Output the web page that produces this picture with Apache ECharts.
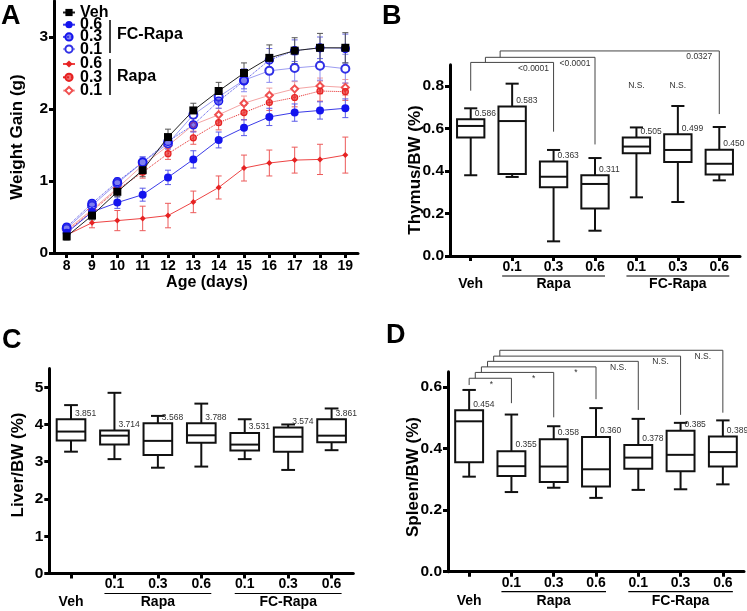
<!DOCTYPE html>
<html><head><meta charset="utf-8">
<script src="https://cdn.jsdelivr.net/npm/echarts@6/dist/echarts.min.js"></script>
<style>html,body{margin:0;padding:0;background:#fff}#c{width:747px;height:611px}</style>
</head><body><div id="c"></div>
<script>
// ---------- Panel A data ----------
const days = ['8','9','10','11','12','13','14','15','16','17','18','19'];
const vehGain    = [0.23,0.52,0.85,1.15,1.61,1.98,2.25,2.50,2.71,2.81,2.85,2.85];
const fc06Gain   = [0.28,0.57,0.70,0.81,1.05,1.30,1.57,1.74,1.89,1.95,1.98,2.01];
const fc03Gain   = [0.36,0.69,0.99,1.26,1.55,1.78,2.11,2.39,2.68,2.81,2.85,2.84];
const fc01Gain   = [0.34,0.66,0.97,1.26,1.52,1.92,2.17,2.40,2.53,2.57,2.60,2.56];
const rapa06Gain = [0.25,0.42,0.45,0.48,0.52,0.71,0.91,1.18,1.25,1.29,1.30,1.36];
const rapa03Gain = [0.30,0.58,0.88,1.12,1.38,1.60,1.81,1.95,2.09,2.16,2.25,2.24];
const rapa01Gain = [0.32,0.60,0.90,1.22,1.49,1.78,1.92,2.08,2.19,2.28,2.32,2.30];
const vehErr    = [0.05,0.06,0.07,0.09,0.11,0.10,0.12,0.14,0.18,0.18,0.20,0.21];
const fc06Err   = [0.04,0.07,0.08,0.09,0.10,0.12,0.11,0.11,0.12,0.12,0.12,0.13];
const fc03Err   = [0.04,0.04,0.05,0.07,0.09,0.10,0.10,0.11,0.16,0.15,0.15,0.20];
const fc01Err   = [0.04,0.04,0.05,0.08,0.08,0.10,0.10,0.16,0.16,0.18,0.20,0.20];
const rapa06Err = [0.05,0.07,0.14,0.17,0.17,0.15,0.16,0.18,0.18,0.18,0.21,0.25];
const rapa03Err = [0.04,0.05,0.06,0.08,0.08,0.09,0.10,0.10,0.11,0.13,0.14,0.12];
const rapa01Err = [0.04,0.05,0.06,0.07,0.08,0.09,0.09,0.10,0.10,0.10,0.11,0.11];
const gainTicks = [0,1,2,3];

// ---------- Box panels data ----------
const groups = ['Veh','Rapa 0.1','Rapa 0.3','Rapa 0.6','FC-Rapa 0.1','FC-Rapa 0.3','FC-Rapa 0.6'];
const groupLabels = ['Veh','','Rapa','','','FC-Rapa',''];
const underlineSpans = [[1,3],[4,6]];
// [min, q1, median, q3, max]
const thymusBoxes = [[0.380,0.558,0.612,0.643,0.695],[0.372,0.386,0.635,0.703,0.811],[0.069,0.323,0.373,0.445,0.499],[0.119,0.224,0.339,0.380,0.461],[0.276,0.483,0.515,0.558,0.605],[0.254,0.442,0.499,0.573,0.706],[0.356,0.384,0.434,0.500,0.607]];
const thymusMeans = ['0.586','0.583','0.363','0.311','0.505','0.499','0.450'];
const liverBoxes = [[3.27,3.57,3.81,4.14,4.52],[3.07,3.46,3.70,3.84,4.85],[2.84,3.18,3.56,4.03,4.23],[2.87,3.51,3.71,4.03,4.56],[3.07,3.30,3.46,3.77,4.14],[2.78,3.27,3.67,3.92,4.00],[3.31,3.52,3.70,4.14,4.43]];
const liverMeans = ['3.851','3.714','3.568','3.788','3.531','3.574','3.861'];
const spleenBoxes = [[0.309,0.356,0.489,0.525,0.591],[0.259,0.311,0.343,0.392,0.511],[0.273,0.292,0.342,0.431,0.473],[0.240,0.277,0.333,0.438,0.532],[0.266,0.335,0.371,0.412,0.497],[0.268,0.327,0.380,0.458,0.484],[0.284,0.342,0.389,0.440,0.492]];
const spleenMeans = ['0.454','0.355','0.358','0.360','0.378','0.385','0.389'];
const thymusTicks = [0,0.2,0.4,0.6,0.8];
const liverTicks = [0,1,2,3,4,5];
const spleenTicks = [0,0.2,0.4,0.6];

// significance brackets (from Veh)
const thymusSigTargets = [2,3,6];
const thymusSigLevels  = [0.911,0.935,0.965];
const thymusSigBottoms = [0.585,0.525,0.668];
const thymusSigStart   = 0.778;
const thymusSigLabels  = ['<0.0001','<0.0001','0.0327'];
const thymusNsIdx = [4,5];
const thymusNsValue = 0.80;
const spleenSigTargets = [1,2,3,4,5,6];
const spleenSigLevels  = [0.629,0.648,0.666,0.684,0.701,0.720];
const spleenSigBottoms = [0.548,0.502,0.561,0.526,0.510,0.517];
const spleenSigStart   = 0.607;
const spleenSigLabels  = ['*','*','*','N.S.','N.S.','N.S.'];

// ---------- styles ----------
const FF = '"Liberation Sans", Arial, sans-serif';
const BLUE = '#1414ee', RED = '#e62222';
const chart = echarts.init(document.getElementById('c'), null, {renderer:'canvas'});

function gridDef(l,t,w,h){return {left:l,top:t,width:w,height:h,containLabel:false,outerBoundsMode:'none'};}
function catAxis(gi, data, fmt, margin, showLine){
  return {type:'category', gridIndex:gi, data:data, boundaryGap:true, position:'bottom',
    axisLine:{show:showLine, onZero:false, lineStyle:{color:'#000',width:3}},
    axisTick:{show:showLine, alignWithLabel:true, interval:0, length:5, lineStyle:{color:'#000',width:3}},
    axisLabel:{interval:0, margin:margin, color:'#000', fontFamily:FF, fontWeight:'bold', fontSize:14, formatter:fmt},
    splitLine:{show:false}};
}
function valAxis(gi, min, max, ticks, fmt){
  return {type:'value', gridIndex:gi, min:min, max:max,
    axisLine:{show:true, lineStyle:{color:'#000',width:3}},
    axisTick:{show:true, length:5, customValues:ticks, lineStyle:{color:'#000',width:3}},
    axisLabel:{customValues:ticks, margin:6, color:'#000', fontFamily:FF, fontWeight:'bold', fontSize:15.5, formatter:fmt},
    splitLine:{show:false}};
}

function errSeries(name, mean, err, color){
  return {type:'custom', name:name+' err', xAxisIndex:0, yAxisIndex:0, clip:false, z:1,
    data: mean.map((m,i)=>[i, m-err[i], m+err[i]]),
    encode:{x:0,y:[1,2]},
    renderItem:function(p, api){
      const a = api.coord([api.value(0), api.value(1)]);
      const b = api.coord([api.value(0), api.value(2)]);
      const st = {stroke:color, lineWidth:1};
      return {type:'group', children:[
        {type:'line', shape:{x1:a[0],y1:a[1],x2:b[0],y2:b[1]}, style:st},
        {type:'line', shape:{x1:a[0]-3,y1:a[1],x2:a[0]+3,y2:a[1]}, style:st},
        {type:'line', shape:{x1:b[0]-3,y1:b[1],x2:b[0]+3,y2:b[1]}, style:st}]};
    }};
}
function lineSeries(name, data, color, symbol, size, itemStyle, lineStyle, z){
  return {type:'line', name:name, xAxisIndex:0, yAxisIndex:0, data:data, symbol:symbol, symbolSize:size,
    itemStyle:Object.assign({color:color}, itemStyle||{}), lineStyle:Object.assign({color:color,width:1}, lineStyle||{}),
    z:z||2, emphasis:{disabled:true}};
}

function boxSeries(xi, yi, boxes, labels){
  return {type:'custom', xAxisIndex:xi, yAxisIndex:yi, clip:false, z:3,
    data: boxes.map((b,i)=>[i].concat(b)), encode:{x:0, y:[1,2,3,4,5]},
    renderItem:function(p, api){
      const i = api.value(0);
      const x = api.coord([i, api.value(3)])[0];
      const y = k => api.coord([i, api.value(k)])[1];
      const yMin=y(1), yQ1=y(2), yMed=y(3), yQ3=y(4), yMax=y(5);
      const w = api.size([1,0])[0]*0.66, c = w*0.48;
      const st = {stroke:'#111', lineWidth:2};
      return {type:'group', children:[
        {type:'line', shape:{x1:x,y1:yMax,x2:x,y2:yQ3}, style:st},
        {type:'line', shape:{x1:x,y1:yQ1,x2:x,y2:yMin}, style:st},
        {type:'line', shape:{x1:x-c/2,y1:yMax,x2:x+c/2,y2:yMax}, style:st},
        {type:'line', shape:{x1:x-c/2,y1:yMin,x2:x+c/2,y2:yMin}, style:st},
        {type:'rect', shape:{x:x-w/2,y:yQ3,width:w,height:yQ1-yQ3}, style:{stroke:'#111',lineWidth:2,fill:'#fff'}},
        {type:'line', shape:{x1:x-w/2,y1:yMed,x2:x+w/2,y2:yMed}, style:st},
        {type:'text', x:x+4, y:yQ3-6, style:{text:labels[p.dataIndex], fontSize:8.5, fontFamily:FF, fill:'#333', verticalAlign:'middle', align:'left'}}
      ]};
    }};
}
function underlineSeries(xi, yi){
  return {type:'custom', xAxisIndex:xi, yAxisIndex:yi, clip:false, z:3, silent:true,
    data: underlineSpans.map(s=>[s[0], s[1], 0]), encode:{x:0},
    renderItem:function(p, api){
      const a = api.coord([api.value(0), api.value(2)]);
      const b = api.coord([api.value(1), api.value(2)]);
      return {type:'line', shape:{x1:a[0]-10,y1:a[1]+20,x2:b[0]+10,y2:a[1]+20}, style:{stroke:'#000',lineWidth:1.2}};
    }};
}
function bracketSeries(xi, yi, targets, levels, bottoms, start, labels, step){
  return {type:'custom', xAxisIndex:xi, yAxisIndex:yi, clip:false, z:3, silent:true,
    data: targets.map((t,k)=>[t, levels[k], bottoms[k]]), encode:{x:0, y:[1,2]},
    renderItem:function(p, api){
      const k = p.dataIndex;
      const catW = api.size([1,0])[0];
      const prev = k===0 ? start : levels[k-1];
      const xb = api.coord([0, prev])[0] + k*step*catW;
      const yPrev = api.coord([0, prev])[1];
      const tl = api.coord([api.value(0), api.value(1)]);
      const tb = api.coord([api.value(0), api.value(2)]);
      const st = {stroke:'#444', lineWidth:1};
      return {type:'group', children:[
        {type:'line', shape:{x1:xb,y1:yPrev,x2:xb,y2:tl[1]}, style:st},
        {type:'line', shape:{x1:xb,y1:tl[1],x2:tl[0],y2:tl[1]}, style:st},
        {type:'line', shape:{x1:tl[0],y1:tl[1],x2:tb[0],y2:tb[1]}, style:st},
        {type:'text', x:tl[0]-20, y:tl[1]+6, style:{text:labels[k], fontSize:8.5, fontFamily:FF, fill:'#333', align:'center', verticalAlign:'middle'}}
      ]};
    }};
}
function nsSeries(xi, yi, idx, val){
  return {type:'custom', xAxisIndex:xi, yAxisIndex:yi, clip:false, z:3, silent:true,
    data: idx.map(i=>[i, val]), encode:{x:0,y:1},
    renderItem:function(p, api){
      const c = api.coord([api.value(0), api.value(1)]);
      return {type:'text', x:c[0], y:c[1], style:{text:'N.S.', fontSize:8.5, fontFamily:FF, fill:'#333', align:'center', verticalAlign:'middle'}};
    }};
}

const doseFmt = v => v==='Veh' ? '' : v.split(' ').pop();
const groupFmt = (v,i) => groupLabels[i];
const f1 = v => v.toFixed(1);
const f0 = v => String(v);

function txt(x,y,text,size,opts){
  return Object.assign({type:'text', x:x, y:y, style:Object.assign({text:text, fontSize:size, fontWeight:'bold', fontFamily:FF, fill:'#000', align:'left', verticalAlign:'middle'}, (opts&&opts.style)||{})}, (opts&&opts.el)||{});
}
function vtitle(x,y,text){
  return {type:'text', x:x, y:y, rotation:Math.PI/2, style:{text:text, fontSize:17, fontWeight:'bold', fontFamily:FF, fill:'#000', align:'center', verticalAlign:'middle'}};
}

const legendText = {fontFamily:FF, fontWeight:'bold', fontSize:16, color:'#000'};
const option = {
  animation:false,
  backgroundColor:'#fff',
  grid:[gridDef(54,1,304,252), gridDef(450,64.75,290,191.25), gridDef(49.3,368.6,304,204.9), gridDef(448,371.8,296,199.9)],
  xAxis:[
    catAxis(0, days, null, 6, true),
    catAxis(1, groups, doseFmt, 4, true), catAxis(1, groups, groupFmt, 21, false),
    catAxis(2, groups, doseFmt, 4, true), catAxis(2, groups, groupFmt, 22, false),
    catAxis(3, groups, doseFmt, 4, true), catAxis(3, groups, groupFmt, 22, false)
  ],
  yAxis:[
    valAxis(0, 0, 3.5, gainTicks, f0),
    valAxis(1, 0, 0.9, thymusTicks, f1),
    valAxis(2, 0, 5.5, liverTicks, f0),
    valAxis(3, 0, 0.65, spleenTicks, f1)
  ],
  legend:[
    {orient:'vertical', left:62, top:4.5, padding:0, itemGap:-3.8, itemWidth:12, itemHeight:9, textStyle:legendText,
     data:['Veh','FC-Rapa 0.6','FC-Rapa 0.3','FC-Rapa 0.1'], formatter:n=>n.split(' ').pop(), selectedMode:false},
    {orient:'vertical', left:62, top:56, padding:0, itemGap:-2.7, itemWidth:12, itemHeight:9, textStyle:legendText,
     data:['Rapa 0.6','Rapa 0.3','Rapa 0.1'], formatter:n=>n.split(' ').pop(), selectedMode:false}
  ],
  series:[
    errSeries('Rapa 0.1', rapa01Gain, rapa01Err, '#f19a9a'),
    errSeries('Rapa 0.3', rapa03Gain, rapa03Err, '#ec6060'),
    errSeries('Rapa 0.6', rapa06Gain, rapa06Err, '#ec5a5a'),
    errSeries('FC-Rapa 0.1', fc01Gain, fc01Err, '#8c8cf0'),
    errSeries('FC-Rapa 0.3', fc03Gain, fc03Err, '#6a6aea'),
    errSeries('FC-Rapa 0.6', fc06Gain, fc06Err, '#5a5ae8'),
    errSeries('Veh', vehGain, vehErr, '#555'),
    lineSeries('Rapa 0.1', rapa01Gain, '#f05050', 'emptyDiamond', 7, {borderWidth:1.2}, {color:'#f4a4a4'}),
    lineSeries('Rapa 0.3', rapa03Gain, RED, 'circle', 6, {color:'rgba(230,34,34,0.65)', borderColor:RED, borderWidth:1.2}, {type:'dotted'}),
    lineSeries('Rapa 0.6', rapa06Gain, RED, 'diamond', 6, null, {color:'#ee4444'}),
    lineSeries('FC-Rapa 0.1', fc01Gain, '#3030e6', 'emptyCircle', 8, {borderWidth:1.3}, {color:'#9c9cf2'}),
    lineSeries('FC-Rapa 0.3', fc03Gain, BLUE, 'circle', 8, {color:'rgba(40,40,230,0.6)', borderColor:BLUE, borderWidth:1.3}, {type:'dotted', color:'#4a4ae8'}),
    lineSeries('FC-Rapa 0.6', fc06Gain, BLUE, 'circle', 8, null, {color:'#3b3be8'}),
    lineSeries('Veh', vehGain, '#000', 'rect', 8, null, {color:'#222'}, 4),
    boxSeries(1, 1, thymusBoxes, thymusMeans),
    underlineSeries(1, 1),
    bracketSeries(1, 1, thymusSigTargets, thymusSigLevels, thymusSigBottoms, thymusSigStart, thymusSigLabels, 0.355),
    nsSeries(1, 1, thymusNsIdx, thymusNsValue),
    boxSeries(3, 2, liverBoxes, liverMeans),
    underlineSeries(3, 2),
    boxSeries(5, 3, spleenBoxes, spleenMeans),
    underlineSeries(5, 3),
    bracketSeries(5, 3, spleenSigTargets, spleenSigLevels, spleenSigBottoms, spleenSigStart, spleenSigLabels, 0.145)
  ],
  graphic:[
    txt(1, 17, 'A', 27),
    txt(382, 17, 'B', 27),
    txt(2, 341, 'C', 27),
    txt(386, 336, 'D', 27),
    {type:'line', shape:{x1:110,y1:20,x2:110,y2:53}, style:{stroke:'#000', lineWidth:1.5}},
    {type:'line', shape:{x1:110,y1:59,x2:110,y2:95}, style:{stroke:'#000', lineWidth:1.5}},
    txt(117, 35, 'FC-Rapa', 16),
    txt(117, 77, 'Rapa', 16),
    vtitle(17, 137, 'Weight Gain (g)'),
    txt(207, 283, 'Age (days)', 16, {style:{align:'center'}}),
    vtitle(415, 170, 'Thymus/BW (%)'),
    vtitle(18, 465, 'Liver/BW (%)'),
    vtitle(413, 477, 'Spleen/BW (%)')
  ]
};
chart.setOption(option);
</script>
</body></html>
